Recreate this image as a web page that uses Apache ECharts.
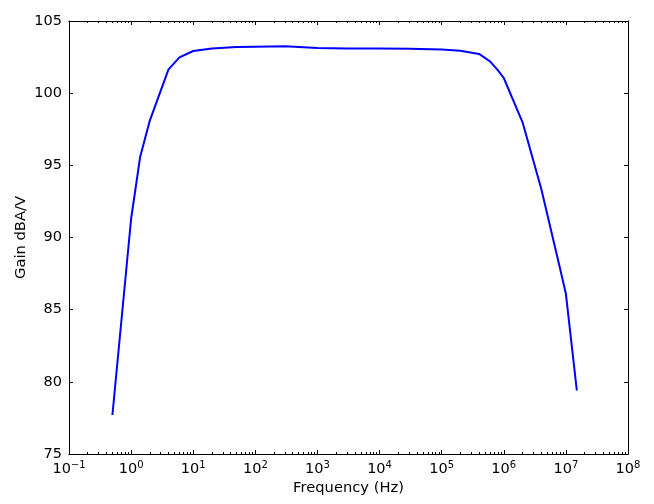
<!DOCTYPE html>
<html><head><meta charset="utf-8">
<script src="https://cdn.jsdelivr.net/npm/echarts@6/dist/echarts.min.js"></script>
<style>html,body{margin:0;padding:0;background:#fff}#c{width:654px;height:504px}</style>
</head><body><div id="c"></div>
<script>
const freqHz = [0.5, 1, 1.4, 2, 4, 6, 10, 20, 50, 100, 300, 1000, 3000, 1e4, 3e4, 1e5, 2e5, 4e5, 6e5, 8e5, 1e6, 2e6, 4e6, 8e6, 1e7, 1.5e7];
const gainDb = [77.7, 91.3, 95.6, 98.1, 101.65, 102.48, 102.92, 103.1, 103.2, 103.22, 103.25, 103.13, 103.1, 103.1, 103.08, 103.02, 102.94, 102.72, 102.2, 101.6, 101.05, 98.0, 93.4, 87.9, 86.1, 79.4];
const majorX = [0.1, 1, 10, 100, 1e3, 1e4, 1e5, 1e6, 1e7, 1e8];
const minorX = [];
for (let e = -1; e < 8; e++) for (let m = 2; m <= 9; m++) minorX.push(m * Math.pow(10, e));

const FONT = 'DejaVu Sans';
const chart = echarts.init(document.getElementById('c'), null, {renderer: 'canvas'});
const line = {color: '#000', width: 1};
const tickIn = (len, vals) => ({show: true, inside: true, length: len, lineStyle: {color: '#000', width: 1}, customValues: vals});
const xBase = {type: 'log', logBase: 10, min: 0.1, max: 1e8, splitLine: {show: false}, axisLine: {show: true, lineStyle: line}};
chart.setOption({
  animation: false,
  grid: {left: 69, right: 26, top: 21, bottom: 50, show: false},
  xAxis: [
    Object.assign({}, xBase, {position: 'bottom', axisTick: tickIn(4, majorX),
      axisLabel: {customValues: majorX, margin: 6, fontFamily: FONT, color: '#000',
        formatter: v => { const e = Math.round(Math.log10(v)); return '{b|10}{s|' + (e < 0 ? '\u2212' + (-e) : e) + '}'; },
        rich: {b: {fontSize: 14.5, fontFamily: FONT, color: '#000'}, s: {fontSize: 10, fontFamily: FONT, color: '#000', padding: [0, 0, 8, 0]}}},
      name: 'Frequency (Hz)', nameLocation: 'middle', nameGap: 27, nameMoveOverlap: false, nameTextStyle: {fontSize: 14.7, fontFamily: FONT, color: '#000'}}),
    Object.assign({}, xBase, {position: 'top', axisTick: tickIn(4, majorX), axisLabel: {show: false}}),
    Object.assign({}, xBase, {position: 'bottom', axisTick: tickIn(2, minorX), axisLabel: {show: false}}),
    Object.assign({}, xBase, {position: 'top', axisTick: tickIn(2, minorX), axisLabel: {show: false}})
  ],
  yAxis: [
    {type: 'value', min: 75, max: 105, interval: 5, position: 'left', splitLine: {show: false},
      axisLine: {show: true, lineStyle: line}, axisTick: {show: true, inside: true, length: 4, lineStyle: line},
      axisLabel: {fontSize: 14.5, fontFamily: FONT, color: '#000', margin: 7},
      name: 'Gain dBA/V', nameLocation: 'middle', nameGap: 40, nameMoveOverlap: false, nameTextStyle: {fontSize: 14.7, fontFamily: FONT, color: '#000'}},
    {type: 'value', min: 75, max: 105, interval: 5, position: 'right', splitLine: {show: false},
      axisLine: {show: true, lineStyle: line}, axisTick: {show: true, inside: true, length: 4, lineStyle: line},
      axisLabel: {show: false}}
  ],
  series: [{type: 'line', xAxisIndex: 0, yAxisIndex: 0, data: freqHz.map((f, i) => [f, gainDb[i]]),
    showSymbol: false, symbol: 'none', lineStyle: {color: '#0000ff', width: 2}}]
});
</script></body></html>
